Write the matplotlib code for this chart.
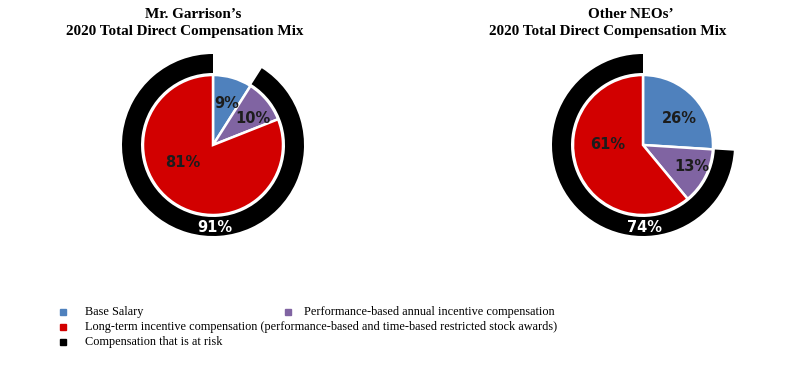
import numpy as np
import matplotlib.pyplot as plt

# data
categories = ['Base Salary',
              'Performance-based annual incentive compensation',
              'Long-term incentive compensation (performance-based and time-based restricted stock awards)']
at_risk_label = 'Compensation that is at risk'
colors = ['#4F81BD', '#8064A2', '#D20000']

garrison_mix = [9, 10, 81]
neo_mix = [26, 13, 61]

titles = [["Mr. Garrison\u2019s", '2020 Total Direct Compensation Mix'],
          ['Other NEOs\u2019', '2020 Total Direct Compensation Mix']]

W, H = 804, 371
fig = plt.figure(figsize=(W / 100, H / 100), dpi=100)
ax = fig.add_axes([0, 0, 1, 1])

R_PIE = 70
R_RING = 91
RING_W = 19

serif = ['Liberation Serif', 'DejaVu Serif']
sans = ['DejaVu Sans']


def draw_mix(vals, cx, cy, title, title_x, label_tweaks):
    y0 = H - cy
    wedges, _ = ax.pie(vals, colors=colors, startangle=90, counterclock=False,
                       radius=R_PIE, center=(cx, y0),
                       wedgeprops=dict(edgecolor='white', linewidth=1.8))

    # outer ring: everything except base salary is at risk
    at_risk = sum(vals[1:])
    ring, _ = ax.pie([vals[0], at_risk], colors=['white', 'black'], startangle=90,
                     counterclock=False, radius=R_RING, center=(cx, y0),
                     wedgeprops=dict(width=RING_W, linewidth=0))
    ring[0].set_visible(False)

    # slice labels
    start = 90.0
    total = float(sum(vals))
    for v, (dang, dist) in zip(vals, label_tweaks):
        span = 360.0 * v / total
        mid = np.deg2rad(start - span / 2 + dang)
        start -= span
        ax.text(cx + dist * R_PIE * np.cos(mid), y0 + dist * R_PIE * np.sin(mid),
                f'{v}%', ha='center', va='center', fontsize=10.5,
                fontweight='bold', color='#1c1c1c', family=sans)

    ax.text(cx + 2, y0 - (R_RING - RING_W / 2) - 1, f'{at_risk}%', ha='center',
            va='center', fontsize=10.5, fontweight='bold', color='white', family=sans)

    for line, tx, ty in zip(title, title_x, [14, 32]):
        ax.text(tx, H - ty, line, ha='center', va='center', fontsize=10.9,
                fontweight='bold', family=serif)


draw_mix(garrison_mix, 213, 145, titles[0], [193, 185],
         [(-2, 0.62), (-6, 0.69), (-25, 0.5)])
draw_mix(neo_mix, 643, 145, titles[1], [631, 608],
         [(-7, 0.65), (3, 0.77), (-20, 0.51)])

# legend
leg_items = [(categories[0], colors[0], 63, 312),
             (categories[1], colors[1], 288, 312),
             (categories[2], colors[2], 63, 327),
             (at_risk_label, 'black', 63, 342)]
for text, col, mx, my in leg_items:
    ax.plot([mx], [H - my], marker='s', markersize=5, color=col, linestyle='none')
    ax.text(mx + 22 - (6 if mx > 100 else 0), H - my, text, ha='left', va='center',
            fontsize=8.8, family=serif)

ax.set_xlim(0, W)
ax.set_ylim(0, H)
ax.set_aspect('equal')
ax.set_axis_off()

fig.savefig('out.png', dpi=100)
